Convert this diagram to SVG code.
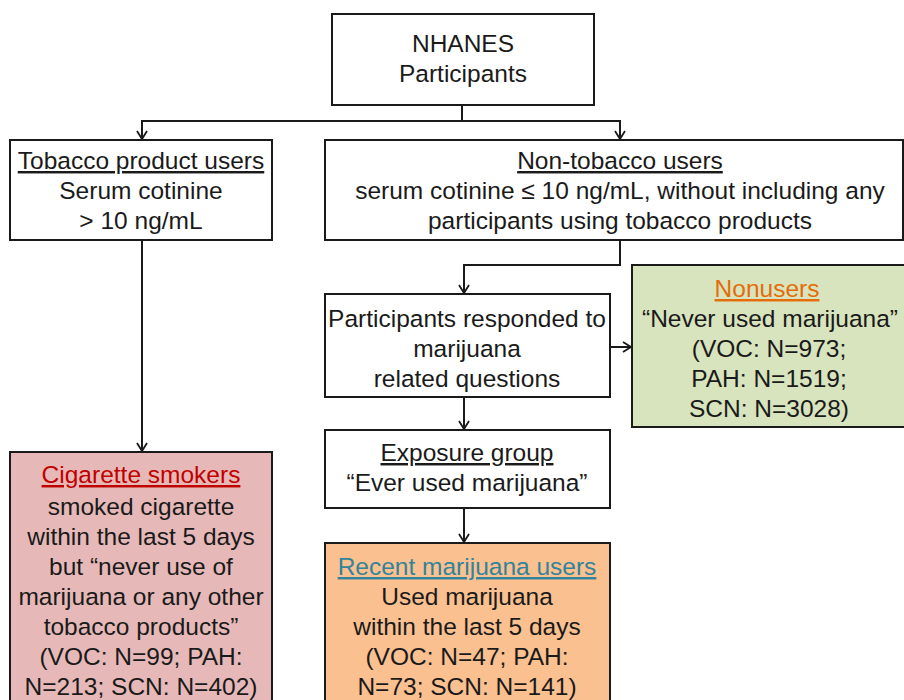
<svg xmlns="http://www.w3.org/2000/svg" width="904" height="700" viewBox="0 0 904 700">
<style>
.box{stroke:#1a1a1a;stroke-width:2;}
.w{fill:#fff;}
text{font-family:"Liberation Sans",Arial,sans-serif;font-size:24.5px;fill:#1a1a1a;text-anchor:middle;}
.u{text-decoration:underline;}
.con{fill:none;stroke:#1a1a1a;stroke-width:2;}
</style>
<defs>
<marker id="ah" markerWidth="12" markerHeight="12" refX="10" refY="6" orient="auto" markerUnits="userSpaceOnUse">
<path d="M2,1 L10,6 L2,11" fill="none" stroke="#1a1a1a" stroke-width="1.8"/>
</marker>
</defs>
<rect width="904" height="700" fill="#fff"/>
<g id="connectors">
<path class="con" d="M462,105 V121 H142 V139" marker-end="url(#ah)"/>
<path class="con" d="M462,121 H620 V139" marker-end="url(#ah)"/>
<path class="con" d="M620,240 V265 H464 V293" marker-end="url(#ah)"/>
<path class="con" d="M610,347 H631" marker-end="url(#ah)"/>
<path class="con" d="M464,397 V429" marker-end="url(#ah)"/>
<path class="con" d="M464,508 V542" marker-end="url(#ah)"/>
<path class="con" d="M142,240 V451" marker-end="url(#ah)"/>
</g>
<g id="nhanes">
<rect class="box w" x="332" y="14" width="262" height="91"/>
<text x="463" y="52">NHANES</text>
<text x="463" y="82">Participants</text>
</g>
<g id="tobacco">
<rect class="box w" x="10" y="140" width="262" height="100"/>
<text x="141" y="169" class="u">Tobacco product users</text>
<text x="141" y="199">Serum cotinine</text>
<text x="141" y="229">&gt; 10 ng/mL</text>
</g>
<g id="nontobacco">
<rect class="box w" x="325" y="140" width="578" height="100"/>
<text x="620" y="169" class="u">Non-tobacco users</text>
<text x="620" y="199">serum cotinine ≤ 10 ng/mL, without including any</text>
<text x="620" y="229">participants using tobacco products</text>
</g>
<g id="responded">
<rect class="box w" x="325" y="294" width="285" height="103"/>
<text x="467" y="327">Participants responded to</text>
<text x="467" y="357">marijuana</text>
<text x="467" y="387">related questions</text>
</g>
<g id="nonusers">
<rect class="box" x="632" y="265" width="280" height="162" fill="#d7e4bd"/>
<text x="767" y="297" class="u" style="fill:#e46c0a">Nonusers</text>
<text x="770" y="327">“Never used marijuana”</text>
<text x="769" y="357">(VOC: N=973;</text>
<text x="769" y="387">PAH: N=1519;</text>
<text x="769" y="417">SCN: N=3028)</text>
</g>
<g id="exposure">
<rect class="box w" x="325" y="430" width="285" height="78"/>
<text x="467" y="461" class="u">Exposure group</text>
<text x="467" y="491">“Ever used marijuana”</text>
</g>
<g id="recent">
<rect class="box" x="325" y="543" width="285" height="170" fill="#fac090"/>
<text x="467" y="575" class="u" style="fill:#31849b">Recent marijuana users</text>
<text x="467" y="605">Used marijuana</text>
<text x="467" y="635">within the last 5 days</text>
<text x="467" y="665">(VOC: N=47; PAH:</text>
<text x="467" y="695">N=73; SCN: N=141)</text>
</g>
<g id="cigarette">
<rect class="box" x="10" y="452" width="262" height="260" fill="#e6b9b8"/>
<text x="141" y="483" class="u" style="fill:#c00000">Cigarette smokers</text>
<text x="141" y="515">smoked cigarette</text>
<text x="141" y="545">within the last 5 days</text>
<text x="141" y="575">but “never use of</text>
<text x="141" y="605">marijuana or any other</text>
<text x="141" y="635">tobacco products”</text>
<text x="141" y="665">(VOC: N=99; PAH:</text>
<text x="141" y="695">N=213; SCN: N=402)</text>
</g>
</svg>
